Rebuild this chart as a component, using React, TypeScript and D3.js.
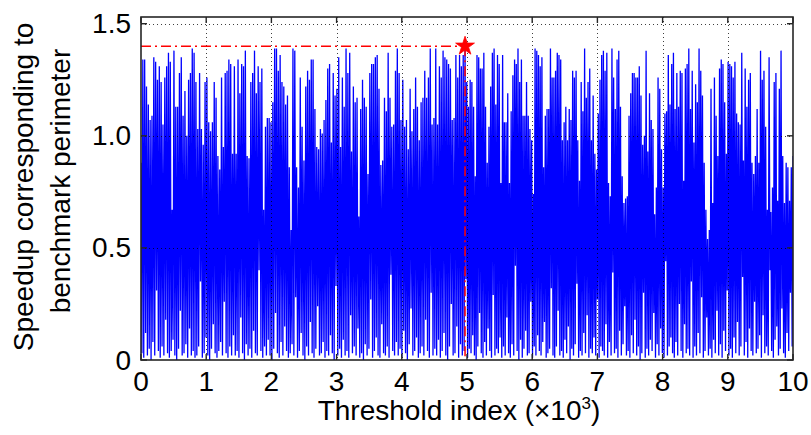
import React from 'react';
import * as d3 from 'd3';

// Threshold index in units of 10^3
const xTicks = [0, 1, 2, 3, 4, 5, 6, 7, 8, 9, 10];
const xTickLabels = ['0', '1', '2', '3', '4', '5', '6', '7', '8', '9', '10'];
const yTicks = [0, 0.5, 1.0, 1.5];
const yTickLabels = ['0', '0.5', '1.0', '1.5'];
const xLimits = [0, 10];
const yLimits = [0, 1.53];

// best threshold (marked with the red star)
const bestIndex = 4.97;
const bestSpeedup = 1.40;

// local peak speedups, left of the best threshold
const peaksBeforeBest = [
  0.88, 1.34, 1.34, 1.22, 1.14, 1.07, 1.09, 1.35, 1.33, 1.25, 1.31, 1.24, 1.05, 1.26, 1.31, 1.37, 1.33, 0.67, 1.38, 1.13,
  1.13, 1.28, 1.35, 1.09, 1.20, 1.00, 1.25, 1.28, 1.39, 1.37, 1.24, 1.03, 1.28, 1.03, 0.96, 1.24, 1.26, 1.06, 1.02, 1.06,
  1.24, 1.17, 0.91, 0.85, 1.26, 0.95, 1.28, 1.29, 1.34, 1.32, 0.92, 1.31, 0.92, 1.34, 1.19, 1.32,
  1.31, 1.38, 0.91, 0.90, 1.24, 1.28, 1.38, 1.19, 1.31, 1.24, 1.30, 0.67, 1.04, 1.08, 1.08, 1.06, 1.15, 1.39, 1.39, 1.29,
  1.36, 1.24, 1.22, 1.14, 1.18, 0.86, 0.58, 1.39, 1.38, 0.86, 0.77, 1.26, 1.04, 0.89, 1.22, 1.29, 1.25, 1.34, 1.34, 1.12,
  0.95, 0.94, 1.03, 1.01, 1.07, 1.16, 1.30, 1.32, 0.97, 1.28, 1.18, 1.21, 1.35, 0.95, 1.26, 1.13, 1.39, 1.28,
  1.37, 0.93, 1.22, 1.15, 1.17, 0.64, 1.12, 1.25, 1.17, 1.13, 0.83, 1.28, 1.32, 1.32, 1.35, 1.36, 1.21, 0.87, 0.89, 1.17,
  1.11, 1.37, 1.17, 1.04, 1.05, 1.29, 1.39, 1.28, 1.07, 1.25, 1.04, 1.07, 0.94, 1.21, 1.02, 1.12, 1.26, 1.13, 0.98, 1.15,
  1.17, 1.29, 1.17, 1.26, 1.39, 1.05, 1.08, 1.39, 1.05, 1.31, 1.26, 1.38, 1.35, 1.34, 1.32, 1.30, 1.07, 1.08, 1.36, 1.26,
  1.36, 1.31, 1.36,
];

// local peak speedups, right of the best threshold
const peaksAfterBest = [
  1.24, 1.13, 1.25, 1.24, 1.13, 0.82, 1.36, 1.35, 1.30, 1.30, 1.37, 1.13, 0.88, 1.04, 1.22, 1.37, 1.39, 1.14, 1.36, 1.32,
  0.79, 1.36, 1.06, 1.06, 1.19, 0.79, 1.11, 1.27, 1.34, 1.32, 1.39, 1.24, 1.34, 1.09, 1.09, 1.24, 1.09, 1.03, 0.98, 0.74,
  1.39, 1.38, 1.36, 1.31, 1.35, 0.86, 1.09, 1.12, 1.12, 1.39, 1.26, 1.26, 1.29, 1.37, 1.36, 1.34, 0.98, 1.06, 1.13, 0.98,
  1.12, 1.07,
  1.29, 1.26, 1.29, 0.98, 0.80, 1.24, 1.11, 1.39, 1.17, 1.24, 1.30, 0.98, 1.18, 0.92, 0.85, 1.10, 1.25, 1.36, 1.38, 1.29,
  1.37, 0.79, 0.73, 1.39, 1.26, 1.12, 1.34, 1.38, 1.13, 0.82, 0.70, 0.72, 0.73, 1.09, 1.19, 1.28, 1.28, 1.26, 1.26, 1.31,
  1.18, 0.96, 1.00, 1.38, 0.93, 1.19, 1.07, 1.03, 0.65, 0.77, 1.26, 1.21, 0.94, 0.77, 1.10, 1.11, 1.36, 1.14, 1.32, 1.37,
  1.12, 1.28, 1.13, 1.29, 1.28,
  0.80, 1.30, 1.32, 1.39, 1.12, 1.29, 0.97, 1.23, 1.15, 1.39, 1.29, 1.18, 0.88, 0.67, 0.54, 0.58, 1.21, 0.70, 1.26, 1.09,
  0.91, 1.30, 1.34, 1.32, 1.15, 0.92, 1.33, 1.32, 1.31, 1.26, 1.33, 1.10, 1.06, 1.05, 1.37, 0.89, 1.30, 1.13, 1.25, 1.28,
  0.88, 0.83, 0.91, 1.12, 0.88, 1.38, 1.25, 1.29, 1.04, 0.67, 1.35, 0.66, 0.77, 1.24, 1.28, 0.71, 1.21, 1.38, 0.91, 0.70,
  0.88, 0.86, 0.71, 0.86, 0.91,
];

// local minima between consecutive peaks
const troughs = [
  0.03, 0.01, 0.12, 0.02, 0.05, 0.00, 0.08, 0.02, 0.31, 0.04,
  0.01, 0.06, 0.02, 0.18, 0.03, 0.01, 0.04, 0.09, 0.02, 0.00,
  0.05, 0.22, 0.02, 0.03, 0.07, 0.01, 0.14, 0.02, 0.04, 0.01,
  0.02, 0.06, 0.35, 0.01, 0.03, 0.10, 0.02, 0.00, 0.05, 0.16,
  0.03, 0.01, 0.04, 0.08, 0.02, 0.26, 0.03, 0.01, 0.06, 0.02,
  0.11, 0.02, 0.04, 0.01, 0.19, 0.03, 0.00, 0.07, 0.02, 0.05,
  0.01, 0.13, 0.03, 0.02, 0.40, 0.04, 0.01, 0.06, 0.02, 0.09,
  0.02, 0.00, 0.05, 0.21, 0.03, 0.01, 0.08, 0.02, 0.15, 0.04,
  0.01, 0.03, 0.07, 0.02, 0.28, 0.01, 0.04, 0.12, 0.02, 0.00,
  0.06, 0.02, 0.17, 0.03, 0.01, 0.05, 0.24, 0.02, 0.03, 0.08,
  0.01, 0.04, 0.02, 0.11, 0.03, 0.00, 0.33, 0.02, 0.05, 0.01,
  0.09, 0.02, 0.04, 0.01, 0.20, 0.03, 0.06, 0.02, 0.14, 0.01,
  0.03, 0.00, 0.07, 0.02, 0.05, 0.27, 0.01, 0.04, 0.10, 0.02,
  0.01, 0.16, 0.03, 0.02, 0.06, 0.01, 0.38, 0.04, 0.02, 0.08,
  0.02, 0.05, 0.01, 0.13, 0.03, 0.00, 0.07, 0.23, 0.02, 0.04,
  0.10, 0.01, 0.03, 0.06, 0.02, 0.18, 0.04, 0.01, 0.30, 0.02,
  0.05, 0.02, 0.09, 0.01, 0.04, 0.12, 0.02, 0.00, 0.06, 0.25,
  0.02, 0.03, 0.15, 0.01, 0.07, 0.02, 0.04, 0.36, 0.01, 0.05,
  0.03, 0.11, 0.02, 0.00, 0.06, 0.21, 0.03, 0.01, 0.08, 0.02,
  0.14, 0.04, 0.01, 0.29, 0.02, 0.05, 0.03, 0.10, 0.01, 0.06,
  0.02, 0.19, 0.03, 0.01, 0.07, 0.02, 0.42, 0.04, 0.00, 0.09,
  0.01, 0.05, 0.13, 0.02, 0.03, 0.26, 0.01, 0.06, 0.02, 0.11,
  0.04, 0.02, 0.08, 0.17, 0.01, 0.03, 0.05, 0.32, 0.02, 0.01,
  0.06, 0.22, 0.02, 0.04, 0.01, 0.09, 0.03, 0.15, 0.00, 0.05,
  0.02, 0.07, 0.34, 0.01, 0.04, 0.02, 0.12, 0.03, 0.20, 0.01,
  0.05, 0.03, 0.10, 0.02, 0.27, 0.01, 0.06, 0.04, 0.02, 0.16,
  0.01, 0.08, 0.02, 0.39, 0.03, 0.05, 0.01, 0.13, 0.02, 0.07,
  0.24, 0.02, 0.04, 0.01, 0.11, 0.03, 0.18, 0.02, 0.06, 0.00,
  0.03, 0.30, 0.01, 0.05, 0.02, 0.09, 0.04, 0.21, 0.01, 0.07,
  0.02, 0.14, 0.03, 0.01, 0.44, 0.02, 0.06, 0.10, 0.03, 0.01,
  0.08, 0.02, 0.25, 0.04, 0.01, 0.16, 0.03, 0.05, 0.02, 0.35,
  0.01, 0.06, 0.02, 0.12, 0.03, 0.28, 0.01, 0.04, 0.19, 0.02,
  0.05, 0.01, 0.09, 0.03, 0.22, 0.02, 0.07, 0.01, 0.13, 0.04,
  0.31, 0.02, 0.05, 0.01, 0.10, 0.03, 0.17, 0.02, 0.06, 0.37,
  0.02, 0.08, 0.01, 0.14, 0.04, 0.02, 0.26, 0.03, 0.05, 0.11,
  0.01, 0.20, 0.03, 0.06, 0.02, 0.40, 0.04, 0.01, 0.09, 0.15,
  0.02, 0.05, 0.23, 0.03, 0.01, 0.12, 0.04, 0.30, 0.06,
];

const W = 811;
const H = 435;
const PL = 141;
const PR = 793;
const PT = 17;
const PB = 360;
const FONT = '"Liberation Sans", Arial, sans-serif';

export default function App() {
  const x = d3.scaleLinear().domain(xLimits).range([PL, PR]);
  const y = d3.scaleLinear().domain(yLimits).range([PB, PT]);

  // peak positions
  const nB = peaksBeforeBest.length;
  const nA = peaksAfterBest.length;
  const peaks: [number, number][] = [];
  peaksBeforeBest.forEach((v, i) => peaks.push([(bestIndex * i) / nB, v]));
  peaks.push([bestIndex, bestSpeedup]);
  peaksAfterBest.forEach((v, j) => peaks.push([bestIndex + ((xLimits[1] - bestIndex) * (j + 1)) / nA, v]));

  const series: [number, number][] = [];
  peaks.forEach((p, k) => {
    series.push(p);
    if (k < peaks.length - 1) {
      const nx = (p[0] + peaks[k + 1][0]) / 2;
      series.push([nx, troughs[k] ?? 0.02]);
    }
  });

  const line = d3
    .line<[number, number]>()
    .x((d) => x(d[0]))
    .y((d) => y(d[1]));

  const star = d3.symbol().type(d3.symbolStar).size(110)();
  const tickLen = 6;
  const axisColor = '#262626';

  return (
    <svg width={W} height={H} style={{ position: 'absolute', left: 0, top: 0, background: '#fff' }}>
      <defs>
        <clipPath id="plotClip">
          <rect x={PL} y={PT} width={PR - PL} height={PB - PT} />
        </clipPath>
      </defs>
      <rect x={0} y={0} width={W} height={H} fill="#fff" />

      <g clipPath="url(#plotClip)">
        <path d={line(series) ?? ''} fill="none" stroke="#0000ff" strokeWidth={1.3} strokeLinejoin="bevel" />
      </g>

      {/* grid */}
      <g stroke="#000" strokeWidth={1} strokeDasharray="1,3" opacity={0.75}>
        {xTicks.slice(1, -1).map((t) => (
          <line key={'gx' + t} x1={Math.round(x(t)) + 0.5} x2={Math.round(x(t)) + 0.5} y1={PT} y2={PB} />
        ))}
        {yTicks.slice(1).map((t) => (
          <line key={'gy' + t} x1={PL} x2={PR} y1={Math.round(y(t)) + 0.5} y2={Math.round(y(t)) + 0.5} />
        ))}
      </g>

      {/* best threshold markers */}
      <g stroke="#ff0000" strokeWidth={1.5} strokeDasharray="10,4,2,4" fill="none">
        <line x1={x(xLimits[0])} x2={x(bestIndex)} y1={y(bestSpeedup)} y2={y(bestSpeedup)} />
        <line x1={x(bestIndex)} x2={x(bestIndex)} y1={y(bestSpeedup)} y2={y(0)} />
      </g>
      <path d={star ?? ''} transform={`translate(${x(bestIndex)},${y(bestSpeedup)})`} fill="#ff0000" stroke="#ff0000" strokeWidth={0.8} />

      {/* frame and ticks */}
      <rect x={PL} y={PT} width={PR - PL} height={PB - PT} fill="none" stroke={axisColor} strokeWidth={1.6} />
      <g stroke={axisColor} strokeWidth={1.4}>
        {xTicks.map((t) => (
          <g key={'tx' + t}>
            <line x1={x(t)} x2={x(t)} y1={PB} y2={PB - tickLen} />
            <line x1={x(t)} x2={x(t)} y1={PT} y2={PT + tickLen} />
          </g>
        ))}
        {yTicks.map((t) => (
          <g key={'ty' + t}>
            <line x1={PL} x2={PL + tickLen} y1={y(t)} y2={y(t)} />
            <line x1={PR} x2={PR - tickLen} y1={y(t)} y2={y(t)} />
          </g>
        ))}
      </g>

      {/* tick labels */}
      <g fontFamily={FONT} fontSize={28} fill="#000">
        {xTicks.map((t, i) => (
          <text key={'lx' + t} x={x(t)} y={391} textAnchor="middle">
            {xTickLabels[i]}
          </text>
        ))}
        {yTicks.map((t, i) => (
          <text key={'ly' + t} x={131} y={y(t)} textAnchor="end" dominantBaseline="central">
            {yTickLabels[i]}
          </text>
        ))}
      </g>

      {/* axis titles */}
      <text x={(PL + PR) / 2 - 8} y={420} textAnchor="middle" fontFamily={FONT} fontSize={28} fill="#000">
        Threshold index (×10
        <tspan fontSize={17} dy={-11}>3</tspan>
        <tspan dy={11}>)</tspan>
      </text>
      <g fontFamily={FONT} fontSize={28} fill="#000">
        <text transform={`translate(33,187) rotate(-90)`} textAnchor="middle">
          Speedup corresponding to
        </text>
        <text transform={`translate(70,181) rotate(-90)`} textAnchor="middle">
          benchmark perimeter
        </text>
      </g>
    </svg>
  );
}
